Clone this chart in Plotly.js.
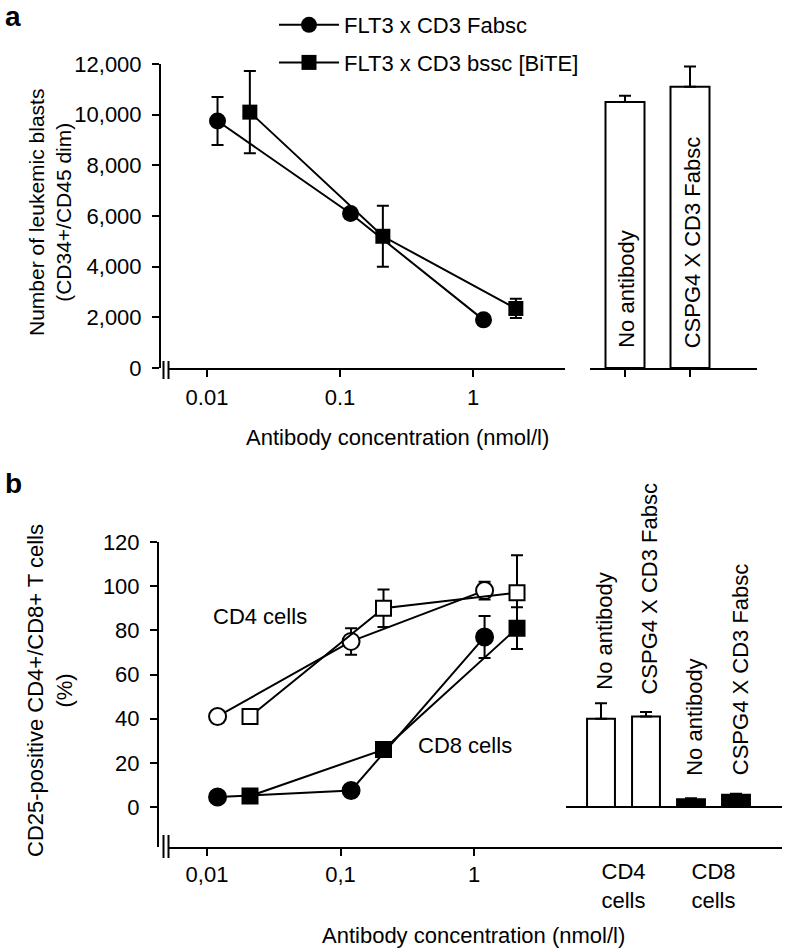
<!DOCTYPE html>
<html><head><meta charset="utf-8">
<script src="https://cdn.plot.ly/plotly-3.0.1.min.js"></script>
<style>html,body{margin:0;padding:0;background:#fff}</style>
</head><body><div id="chart" style="width:786px;height:948px"></div>
<script>
// ---------- Panel a data ----------
const concFabsc = [0.012, 0.12, 1.2];
const concBite = [0.021, 0.21, 2.1];
const blastsFabsc = [9750, 6100, 1900];
const blastsFabscErr = [950, 150, 100];
const blastsBite = [10100, 5200, 2350];
const blastsBiteErr = [1620, 1200, 380];
const seriesNames = ['FLT3 x CD3 Fabsc', 'FLT3 x CD3 bssc [BiTE]'];
const controlLabels = ['No antibody', 'CSPG4 X CD3 Fabsc'];
const controlBlasts = [10500, 11100];
const controlBlastsErr = [250, 800];
const blastTicks = [0, 2000, 4000, 6000, 8000, 10000, 12000];

// ---------- Panel b data ----------
const cd4Fabsc = [41, 75, 98];
const cd4FabscErr = [1, 6, 4];
const cd4Bite = [41, 90, 97];
const cd4BiteErr = [1, 8.5, 17];
const cd8Fabsc = [4.5, 7.5, 77];
const cd8FabscErr = [1, 1, 9.5];
const cd8Bite = [5, 26, 81];
const cd8BiteErr = [1, 1.5, 9.5];
const controlCd25Labels = ['No antibody', 'CSPG4 X CD3 Fabsc', 'No antibody', 'CSPG4 X CD3 Fabsc'];
const controlCd25 = [40, 41, 3.5, 5.5];
const controlCd25Err = [7, 2, 0.5, 0.5];
const controlCd25Fill = ['white', 'white', 'black', 'black'];
const controlCd25LabelY = [52, 50, 13, 13.5];
const cellGroupLabels = ['CD4<br>cells', 'CD8<br>cells'];
const pctTicks = [0, 20, 40, 60, 80, 100, 120];

const logTickVals = [0.01, 0.1, 1];
const logTickTextA = ['0.01', '0.1', '1'];
const logTickTextB = ['0,01', '0,1', '1'];

// ---------- helpers ----------
const W = 786, H = 948;
const px = v => v / W;
const py = v => 1 - v / H;
const FONT = 'Liberation Sans, Arial, Helvetica, sans-serif';
const tf = {family: FONT, size: 22, color: 'black'};
const errStyle = (arr) => ({type: 'data', array: arr, visible: true, color: 'black', thickness: 2, width: 6});

const traces = [];
// panel a lines
traces.push({x: concFabsc, y: blastsFabsc, xaxis: 'x', yaxis: 'y', type: 'scatter', mode: 'lines+markers',
  name: seriesNames[0], legendgroup: 'g1',
  line: {color: 'black', width: 2}, marker: {symbol: 'circle', size: 17, color: 'black'},
  error_y: errStyle(blastsFabscErr)});
traces.push({x: concBite, y: blastsBite, xaxis: 'x', yaxis: 'y', type: 'scatter', mode: 'lines+markers',
  name: seriesNames[1], legendgroup: 'g2',
  line: {color: 'black', width: 2}, marker: {symbol: 'square', size: 15, color: 'black'},
  error_y: errStyle(blastsBiteErr)});
// panel a bars
traces.push({x: [0, 1], y: controlBlasts, xaxis: 'x2', yaxis: 'y', type: 'bar', width: 0.6, showlegend: false,
  marker: {color: 'white', line: {color: 'black', width: 2}},
  error_y: {type: 'data', symmetric: false, array: controlBlastsErr, arrayminus: [0, 0], color: 'black', thickness: 2, width: 6}});
// panel b lines
const bLine = (x, y, err, sym, fill, size) => ({x, y, xaxis: 'x3', yaxis: 'y3', type: 'scatter', mode: 'lines+markers',
  showlegend: false, line: {color: 'black', width: 2},
  marker: {symbol: sym, size, color: fill, line: {color: 'black', width: 2}}, error_y: errStyle(err)});
traces.push(bLine(concFabsc, cd4Fabsc, cd4FabscErr, 'circle', 'white', 17));
traces.push(bLine(concBite, cd4Bite, cd4BiteErr, 'square', 'white', 15));
traces.push(bLine(concFabsc, cd8Fabsc, cd8FabscErr, 'circle', 'black', 17));
traces.push(bLine(concBite, cd8Bite, cd8BiteErr, 'square', 'black', 15));
// panel b bars
traces.push({x: [0, 1, 2, 3], y: controlCd25, xaxis: 'x4', yaxis: 'y3', type: 'bar', width: 0.62, showlegend: false,
  marker: {color: controlCd25Fill, line: {color: 'black', width: 2}},
  error_y: {type: 'data', symmetric: false, array: controlCd25Err, arrayminus: [0, 0, 0, 0], color: 'black', thickness: 2, width: 6}});

const axBase = {showgrid: false, zeroline: false, showline: true, linecolor: 'black', linewidth: 2,
  ticks: 'outside', ticklen: 7, tickwidth: 2, tickcolor: 'black', tickfont: tf, fixedrange: true};

const annotations = [];
const ann = (o) => annotations.push(Object.assign({showarrow: false, font: tf}, o));
const yTitleFont = {family: FONT, size: 21, color: 'black'};
ann({text: '<b>a</b>', xref: 'paper', yref: 'paper', x: px(3), y: py(16), xanchor: 'left', yanchor: 'middle', font: {family: FONT, size: 28, color: 'black'}});
ann({text: '<b>b</b>', xref: 'paper', yref: 'paper', x: px(3), y: py(483), xanchor: 'left', yanchor: 'middle', font: {family: FONT, size: 28, color: 'black'}});
ann({text: 'Number of leukemic blasts<br>(CD34+/CD45 dim)', xref: 'paper', yref: 'paper', x: px(50), y: py(213), textangle: -90, xanchor: 'center', yanchor: 'middle', font: yTitleFont});
ann({text: 'CD25-positive CD4+/CD8+ T cells<br>(%)', xref: 'paper', yref: 'paper', x: px(50), y: py(691), textangle: -90, xanchor: 'center', yanchor: 'middle'});
ann({text: 'Antibody concentration (nmol/l)', xref: 'paper', yref: 'paper', x: px(397), y: py(437), xanchor: 'center', yanchor: 'middle'});
ann({text: 'Antibody concentration (nmol/l)', xref: 'paper', yref: 'paper', x: px(473), y: py(935), xanchor: 'center', yanchor: 'middle'});
ann({text: 'CD4 cells', xref: 'paper', yref: 'paper', x: px(260), y: py(616), xanchor: 'center', yanchor: 'middle'});
ann({text: 'CD8 cells', xref: 'paper', yref: 'paper', x: px(465), y: py(745), xanchor: 'center', yanchor: 'middle'});
controlLabels.forEach((t, i) => ann({text: t, xref: 'x2', yref: 'y', x: i, y: 700, textangle: -90, xanchor: 'center', yanchor: 'bottom', xshift: 2}));
controlCd25Labels.forEach((t, i) => ann({text: t, xref: 'x4', yref: 'y3', x: i, y: controlCd25LabelY[i], textangle: -90, xanchor: 'center', yanchor: 'bottom', xshift: 4}));

const shapes = [];
const ln = (x0, y0, x1, y1) => shapes.push({type: 'line', xref: 'paper', yref: 'paper', x0: px(x0), x1: px(x1), y0: py(y0), y1: py(y1), line: {color: 'black', width: 2}});
// axis breaks
ln(163.5, 361, 163.5, 379); ln(168.5, 361, 168.5, 379);
ln(163.5, 835, 163.5, 858); ln(168.5, 835, 168.5, 858);
// bar baseline panel b
shapes.push({type: 'line', xref: 'x4 domain', yref: 'y3', x0: 4 / 220, x1: 1, y0: 0, y1: 0, line: {color: 'black', width: 2}});

const layout = {
  width: W, height: H, margin: {l: 0, r: 0, t: 0, b: 0}, paper_bgcolor: 'white', plot_bgcolor: 'white',
  font: tf, showlegend: true,
  legend: {x: px(274), y: py(4), xanchor: 'left', yanchor: 'top', font: tf, bgcolor: 'rgba(0,0,0,0)',
    traceorder: 'grouped', tracegroupgap: 6, itemwidth: 60},
  xaxis: Object.assign({}, axBase, {type: 'log', domain: [px(168), px(565)], range: [-2.2932, 0.6917], anchor: 'y',
    tickvals: logTickVals, ticktext: logTickTextA, ticklabelstandoff: 2}),
  yaxis: Object.assign({}, axBase, {domain: [py(368), py(64)], range: [0, 12000], anchor: 'free', position: px(160),
    tickvals: blastTicks, tickformat: ',d', ticklabelstandoff: 6}),
  xaxis2: Object.assign({}, axBase, {domain: [px(590), px(757)], range: [-0.5385, 2.0308], anchor: 'y',
    tickvals: [0, 1], showticklabels: false}),
  xaxis3: Object.assign({}, axBase, {type: 'log', domain: [px(168), px(562)], range: [-2.2921, 0.6592], anchor: 'y3',
    tickvals: logTickVals, ticktext: logTickTextB, ticklabelstandoff: 0}),
  yaxis3: Object.assign({}, axBase, {domain: [py(847), py(542)], range: [-18.11, 120], anchor: 'free', position: px(158),
    tickvals: pctTicks, ticklabelstandoff: 6}),
  xaxis4: Object.assign({}, axBase, {domain: [px(562), px(782)], range: [-0.8667, 4.0222], anchor: 'y3',
    ticks: '', tickvals: [0.5, 2.5], ticktext: cellGroupLabels, ticklabelstandoff: 4}),
  annotations, shapes
};
Plotly.newPlot('chart', traces, layout, {displayModeBar: false, staticPlot: true});
</script></body></html>
